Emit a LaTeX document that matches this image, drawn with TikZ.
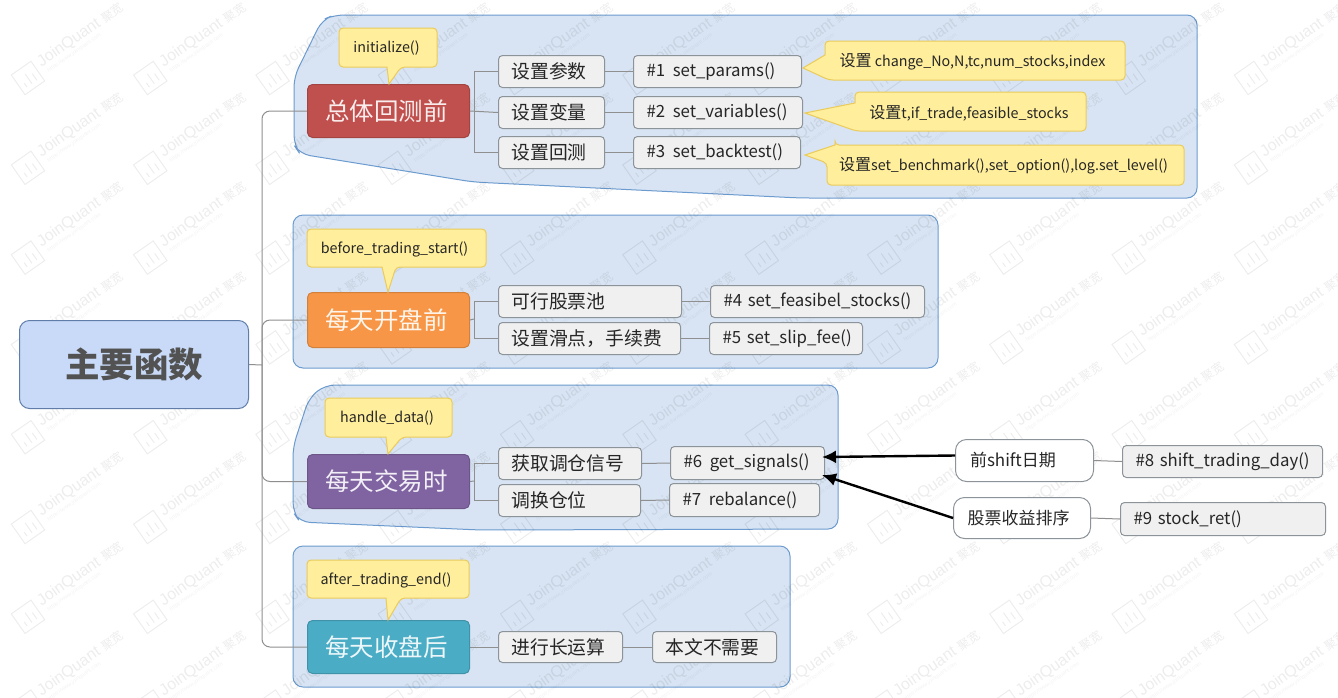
\documentclass[tikz,border=0pt]{standalone}
\usepackage{fontspec}
\setmainfont{Liberation Sans}
\newfontfamily\cjk{Noto Sans CJK SC}
\usetikzlibrary{arrows.meta}
\definecolor{grpfill}{HTML}{D8E4F3}
\definecolor{grpline}{HTML}{6C9BCF}
\definecolor{boxfill}{HTML}{F0F0F0}
\definecolor{boxline}{HTML}{8C9399}
\definecolor{yfill}{HTML}{FFEE9C}
\definecolor{yline}{HTML}{EBCB5A}
\definecolor{conn}{HTML}{8F8F8F}
\definecolor{cred}{HTML}{C0504D}
\definecolor{corange}{HTML}{F79646}
\definecolor{cpurple}{HTML}{8064A2}
\definecolor{cteal}{HTML}{4BACC6}
\definecolor{rootfill}{HTML}{C9DAF8}
\definecolor{rootline}{HTML}{5F7DA8}
\definecolor{inkc}{HTML}{262626}
\tikzset{
  x=1pt,y=-1pt,
  grp/.style={draw=grpline,fill=grpfill,line width=1pt,rounded corners=10pt},
  yel/.style={draw=yline,fill=yfill,line width=1pt,rounded corners=4pt},
  lnk/.style={draw=conn,line width=1pt},
  arr/.style={draw=black,line width=2.4pt,-{Latex[length=14pt,width=13pt]}},
  subbox/.style={draw=boxline,fill=boxfill,line width=1pt,rounded corners=4pt,align=left,font=\cjk\fontsize{18.8}{19}\selectfont,text=inkc},
  fnbox/.style={draw=boxline,fill=boxfill,line width=1pt,rounded corners=4pt,align=left,font=\cjk\fontsize{16.8}{17}\selectfont,text=inkc},
  whitebox/.style={draw=boxline,fill=white,line width=1pt,rounded corners=11pt,align=left,font=\cjk\fontsize{17}{17}\selectfont,text=inkc},
  mainbox/.style={draw=#1!85!black,fill=#1,line width=1pt,rounded corners=5pt,align=center,font=\cjk\fontsize{24.5}{25}\selectfont,text=white!90!#1},
  rootbox/.style={draw=rootline,fill=rootfill,line width=1pt,rounded corners=10pt,align=center,font=\cjk\bfseries\fontsize{34.5}{35}\selectfont,text=black!68},
  yeltext/.style={inner sep=0pt,font=\cjk\fontsize{14.3}{14.3}\selectfont,text=inkc},
  wmtext/.style={rotate=35,anchor=west,inner sep=0pt,text=black,opacity=.07,font=\fontsize{16}{16}\selectfont},
  wmsub/.style={rotate=35,anchor=west,inner sep=0pt,text=black,opacity=.05,font=\fontsize{5.5}{6}\selectfont},
  wmicon/.style={draw=black,opacity=.07,line width=1pt},
}
\newcommand{\bx}[6]{\pgfmathsetmacro{\tw}{#5-#3-26}\node[#2,inner xsep=13pt,inner ysep=0pt,text width=\tw pt,minimum height=#6pt-#4pt,anchor=north west] (#1) at (#3,#4)}
\begin{document}
\begin{tikzpicture}
\useasboundingbox (0,0) rectangle (1338,697);
\fill[white] (0,0) rectangle (1338,697);
% groups, with the watermark over them and beneath their contents
\draw[grp] (334,15) -- (1197,15) -- (1197,198) -- (800,198) -- (473,182) -- (300,154) -- (294,145) -- (294,77) -- (322,20) -- cycle;
\draw[grp] (293,215) rectangle (938,368);
\draw[grp] (325,385) -- (838,385) -- (838,529) -- (480,530) -- (300,522) -- (293,512) -- (293,447) -- (309,398) -- cycle;
\draw[grp] (293,546) rectangle (790,687);
\foreach \i in {0,...,10} \foreach \j in {0,...,7} {
  \pgfmathsetmacro{\wx}{28+122.3*\i}
  \pgfmathsetmacro{\wy}{78+89.8*\j}
  \begin{scope}[shift={(\wx,\wy)},rotate=35]
    \draw[wmicon] (-12,-12) rectangle (12,12);
    \draw[wmicon] (-6,7) -- (-6,2) (0,7) -- (0,-5) (6,7) -- (6,-1);
    \node[wmtext] (wa\i-\j) at (17,-5) {JoinQuant {\cjk\fontsize{12}{12}\selectfont 聚宽}};
    \node[wmsub] (wb\i-\j) at (20,6) {https://www.joinquant.com};
  \end{scope}
}
% root and main
\bx{root}{rootbox}{19}{320}{248}{408} {主要函数};
\bx{n1}{mainbox=cred}{307}{84}{469}{137} {总体回测前\rule{4pt}{0pt}};
\bx{n2}{mainbox=corange}{307}{292}{469}{347} {每天开盘前\rule{4pt}{0pt}};
\bx{n3}{mainbox=cpurple}{307}{454}{469}{508} {每天交易时\rule{4pt}{0pt}};
\bx{n4}{mainbox=cteal}{307}{620}{469}{673} {每天收盘后\rule{4pt}{0pt}};
% sub boxes
\bx{s1}{subbox}{498}{55}{604}{87} {设置参数};
\bx{s2}{subbox}{498}{96}{604}{128} {设置变量};
\bx{s3}{subbox}{498}{136}{604}{168} {设置回测};
\bx{f1}{fnbox}{633}{55}{801}{87} {\#1~\kern2pt set\_params()};
\bx{f2}{fnbox}{633}{96}{802}{128} {\#2~\kern2pt set\_variables()};
\bx{f3}{fnbox}{633}{136}{800}{168} {\#3~\kern2pt set\_backtest()};
\bx{s4}{subbox}{498}{285}{681}{317} {可行股票池};
\bx{s5}{subbox}{498}{322}{680}{354} {设置滑点，手续费};
\bx{f4}{fnbox}{710}{285}{924}{317} {\#4~set\_feasibel\_stocks()};
\bx{f5}{fnbox}{709}{322}{862}{354} {\#5~set\_slip\_fee()};
\bx{s6}{subbox}{498}{447}{641}{479} {获取调仓信号};
\bx{s7}{subbox}{498}{484}{640}{516} {调换仓位};
\bx{f6}{fnbox}{670}{446}{824}{479} {\#6~\kern2pt get\_signals()};
\bx{f7}{fnbox}{669}{483}{819}{516} {\#7~\kern2pt rebalance()};
\bx{s8}{subbox}{498}{631}{622}{662} {进行长运算};
\bx{s9}{subbox}{652}{631}{776}{662} {本文不需要};
\bx{w1}{whitebox}{955}{439}{1093}{481} {\hspace*{1.5pt}前shift日期};
\bx{w2}{whitebox}{953}{497}{1090}{538} {\hspace*{1pt}股票收益排序};
\bx{f8}{fnbox}{1122}{445}{1322}{477} {\#8~shift\_trading\_day()};
\bx{f9}{fnbox}{1120}{502}{1325}{535} {\#9~stock\_ret()};
% connectors
\coordinate (tr) at (262,365);
\draw[lnk] (root.east) -- (tr);
\draw[lnk,rounded corners=8pt] (tr) |- (n1.west);
\draw[lnk,rounded corners=8pt] (tr) |- (n2.west);
\draw[lnk,rounded corners=8pt] (tr) |- (n3.west);
\draw[lnk,rounded corners=8pt] (tr) |- (n4.west);
\coordinate (b1) at (474,112);
\draw[lnk] (n1.east) -- (s2.west);
\draw[lnk] (b1) |- (s1.west);
\draw[lnk] (b1) |- (s3.west);
\coordinate (b2) at (474,319);
\draw[lnk] (n2.east) -- (b2);
\draw[lnk] (b2) |- (s4.west);
\draw[lnk] (b2) |- (s5.west);
\coordinate (b3) at (474,481);
\draw[lnk] (n3.east) -- (b3);
\draw[lnk] (b3) |- (s6.west);
\draw[lnk] (b3) |- (s7.west);
\draw[lnk] (s1.east) -- (f1.west);
\draw[lnk] (s2.east) -- (f2.west);
\draw[lnk] (s3.east) -- (f3.west);
\draw[lnk] (s4.east) -- (f4.west);
\draw[lnk] (s5.east) -- (f5.west);
\draw[lnk] (s6.east) -- (f6.west);
\draw[lnk] (s7.east) -- (f7.west);
\draw[lnk] (n4.east) -- (s8.west);
\draw[lnk] (s8.east) -- (s9.west);
\draw[lnk] (w1.east) -- (f8.west);
\draw[lnk] (w2.east) -- (f9.west);
\coordinate (t1) at (822,457);
\coordinate (t2) at (822,475);
\draw[arr] ([yshift=5pt]w1.west) -- (t1);
\draw[arr] (w2.west) -- (t2);
% callouts
\draw[yel] (339,28) -- (437,28) -- (437,67) -- (401,67) [sharp corners] -- (389,84) -- (387,67) [rounded corners=4pt] -- (339,67) -- cycle;
\draw[yel] (307,229) -- (486,229) -- (486,267) -- (396,267) [sharp corners] -- (388,292) -- (382,267) [rounded corners=4pt] -- (307,267) -- cycle;
\draw[yel] (325,398) -- (452,398) -- (452,437) -- (402,437) [sharp corners] -- (388,454) -- (386,437) [rounded corners=4pt] -- (325,437) -- cycle;
\draw[yel] (307,560) -- (469,560) -- (469,598) -- (401,598) [sharp corners] -- (388,620) -- (386,598) [rounded corners=4pt] -- (307,598) -- cycle;
\draw[yel] (825,41) -- (1125,41) -- (1125,80) -- (829,80) [sharp corners] -- (803,68) -- (825,55) [rounded corners=4pt] -- cycle;
\draw[yel] (855,92) -- (1086,92) -- (1086,131) -- (856,131) [sharp corners] -- (805,113) -- (855,103) [rounded corners=4pt] -- cycle;
\draw[yel] (835,145) -- (1184,145) -- (1184,185) -- (827,185) -- (827,163) [sharp corners] -- (805,155) -- (835,145) [rounded corners=4pt] -- cycle;
\node[yeltext] (y1) at (386.5,48.5) {initialize()};
\node[yeltext] (y2) at (394.5,249.5) {before\_trading\_start()};
\node[yeltext] (y3) at (387,418.5) {handle\_data()};
\node[yeltext] (y4) at (386,580.5) {after\_trading\_end()};
\node[yeltext] (y5) at (972.5,62) {{\fontsize{16}{16}\selectfont 设置} change\_No,N,tc,num\_stocks,index};
\node[yeltext] (y6) at (969,113) {{\fontsize{16}{16}\selectfont 设置}t,if\_trade,feasible\_stocks};
\node[yeltext] (y7) at (1003.5,166) {{\fontsize{16}{16}\selectfont 设置}set\_benchmark(),set\_option(),log.set\_level()};
\end{tikzpicture}
\end{document}
